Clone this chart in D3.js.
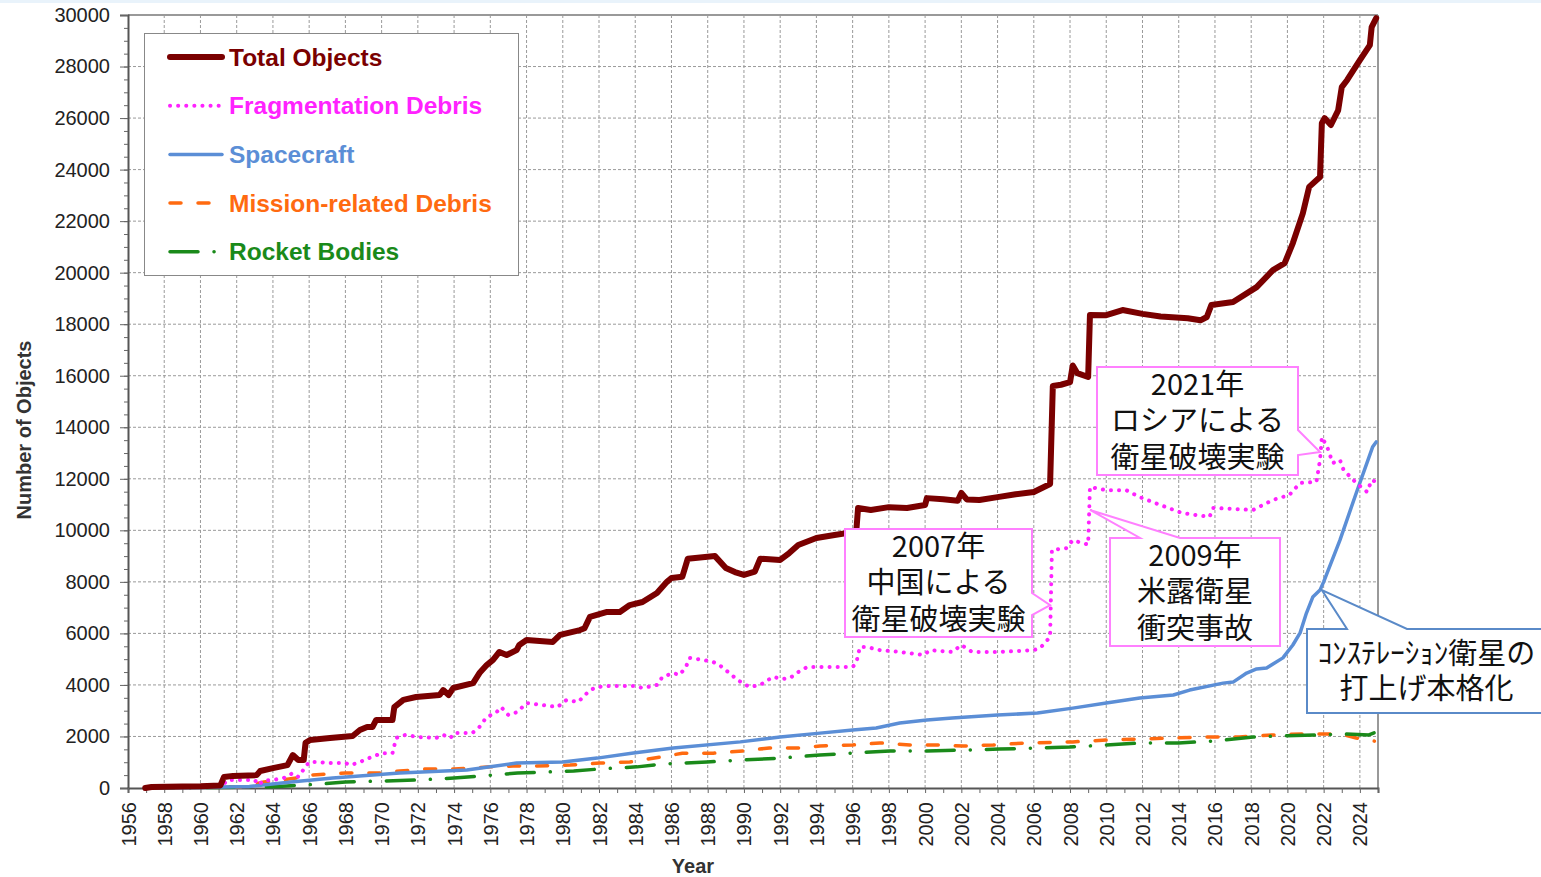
<!DOCTYPE html>
<html lang="ja">
<head>
<meta charset="utf-8">
<title>Number of Objects by Year</title>
<script src="https://cdn.jsdelivr.net/npm/d3@7"></script>
<style>
  body { margin: 0; background: #fff; }
  svg { font-family: "Liberation Sans", Arial, sans-serif; }
</style>
</head>
<body>
<script>
// ---- data (year, number of objects) ----
var totalObjects = [[1956.95,0],[1957.3,40],[1959,60],[1960,70],[1961.1,100],[1961.3,430],[1961.8,470],[1963.1,500],[1963.3,660],[1964.0,770],[1964.8,890],[1965.1,1280],[1965.4,1090],[1965.7,1090],[1965.8,1750],[1966.05,1860],[1967.15,1940],[1968.4,2020],[1968.8,2250],[1969.2,2370],[1969.5,2370],[1969.7,2640],[1970.6,2640],[1970.7,3140],[1971.2,3420],[1971.9,3530],[1973.2,3610],[1973.4,3800],[1973.7,3610],[1973.95,3880],[1975.05,4070],[1975.4,4460],[1975.8,4770],[1976.15,4970],[1976.5,5280],[1976.9,5160],[1977.45,5350],[1977.6,5550],[1978.0,5740],[1979.45,5670],[1979.85,5940],[1980.95,6130],[1981.2,6200],[1981.5,6640],[1982.4,6830],[1983.15,6830],[1983.7,7100],[1984.4,7220],[1985.2,7570],[1985.75,8000],[1986.0,8150],[1986.6,8200],[1986.9,8900],[1988.4,9000],[1989.0,8540],[1989.5,8380],[1990.0,8270],[1990.6,8400],[1990.9,8900],[1992.0,8850],[1992.5,9120],[1993.0,9430],[1994.0,9700],[1995.0,9820],[1996.2,9950],[1996.3,10870],[1997.0,10790],[1998.0,10900],[1999.0,10870],[2000.0,10980],[2000.1,11250],[2001.0,11210],[2001.8,11150],[2002.0,11450],[2002.3,11200],[2003.0,11180],[2004.0,11290],[2005.0,11400],[2006.0,11490],[2006.9,11800],[2007.05,15600],[2007.5,15650],[2008.0,15750],[2008.15,16400],[2008.4,16100],[2009.0,15950],[2009.1,18360],[2010.0,18350],[2010.9,18550],[2012.0,18400],[2013.0,18300],[2014.5,18230],[2015.2,18150],[2015.55,18280],[2015.8,18745],[2017.0,18860],[2018.3,19440],[2019.2,20100],[2019.85,20370],[2020.3,21150],[2020.85,22300],[2021.2,23330],[2021.8,23710],[2021.9,25800],[2022.05,26000],[2022.4,25730],[2022.8,26300],[2023.0,27200],[2023.3,27480],[2024.0,28250],[2024.55,28830],[2024.65,29530],[2024.9,29880]];

var fragmentationDebris = [[1961.35,200],[1961.5,310],[1963.0,310],[1963.2,120],[1963.5,300],[1964.0,310],[1964.6,390],[1965.1,580],[1965.4,430],[1965.8,820],[1966.0,1010],[1966.5,1010],[1967.0,970],[1968.0,970],[1968.3,890],[1968.8,1010],[1969.3,1160],[1970.0,1350],[1970.6,1350],[1970.8,1940],[1971.3,2060],[1972.0,1980],[1973.0,1940],[1973.4,2060],[1973.8,1940],[1974.0,2130],[1975.0,2130],[1975.4,2370],[1975.8,2760],[1976.3,2910],[1976.6,3140],[1977.0,2830],[1977.5,2950],[1978.0,3300],[1979.3,3180],[1979.7,3140],[1980.2,3415],[1980.85,3340],[1981.5,3800],[1981.9,3920],[1982.6,3960],[1984.0,3960],[1984.4,3880],[1985.2,4000],[1985.5,4310],[1986.1,4460],[1986.45,4390],[1986.8,4700],[1987.0,5050],[1987.75,4970],[1988.3,4890],[1988.65,4770],[1989.2,4460],[1989.65,4190],[1990.3,3920],[1990.9,4000],[1991.6,4310],[1992.15,4230],[1992.55,4270],[1992.9,4460],[1993.5,4700],[1996.0,4700],[1996.2,4850],[1996.4,5470],[1996.8,5470],[1997.5,5350],[1998.6,5280],[1999.9,5160],[2000.3,5350],[2001.5,5280],[2002.0,5550],[2002.6,5280],[2004.0,5280],[2006.0,5350],[2006.35,5430],[2006.9,5860],[2007.0,9240],[2007.8,9310],[2008.15,9620],[2008.7,9500],[2009.0,9450],[2009.1,11680],[2010.0,11560],[2011.1,11560],[2011.85,11290],[2013.3,10900],[2014.2,10670],[2015.7,10520],[2015.9,10870],[2018.1,10790],[2019.2,11180],[2020.1,11370],[2020.7,11840],[2021.6,11880],[2021.8,12730],[2021.9,13620],[2022.2,13230],[2022.5,12610],[2022.9,12730],[2023.1,12340],[2023.8,11840],[2024.4,11490],[2024.65,11950],[2024.9,11880]];

var spacecraft = [[1957.0,0],[1960,20],[1962.7,60],[1965.0,230],[1967.3,390],[1971.0,580],[1974.7,700],[1977.45,970],[1980.0,1010],[1981.9,1160],[1983.9,1360],[1986.1,1550],[1989.8,1790],[1992.0,1980],[1994.2,2130],[1996.0,2250],[1997.3,2330],[1998.6,2520],[2000.1,2640],[2001.5,2720],[2004.0,2830],[2006.2,2910],[2008.15,3100],[2010.0,3300],[2011.85,3490],[2013.7,3610],[2014.6,3800],[2016.45,4070],[2017.0,4110],[2017.75,4460],[2018.3,4620],[2018.85,4660],[2019.75,5050],[2020.3,5550],[2020.7,6020],[2021.05,6790],[2021.4,7410],[2021.8,7680],[2022.0,8000],[2022.9,9620],[2023.8,11450],[2024.7,13230],[2024.9,13430]];

var missionDebris = [[1957.0,0],[1959.0,30],[1962.5,50],[1963.2,190],[1963.5,230],[1964.5,310],[1965.3,390],[1966.0,500],[1967.0,540],[1968.0,580],[1970.0,580],[1971.0,660],[1972.5,740],[1974.0,740],[1975.0,780],[1976.0,820],[1977.5,860],[1978.2,850],[1980.4,890],[1982.05,970],[1983.7,1010],[1985.4,1200],[1986.6,1350],[1988.3,1350],[1989.95,1440],[1991.4,1550],[1992.9,1550],[1994.2,1630],[1996.0,1670],[1997.5,1750],[1999.15,1670],[2000.6,1670],[2002.1,1630],[2003.75,1670],[2005.6,1750],[2008.15,1790],[2010.0,1860],[2011.85,1900],[2013.7,1940],[2015.55,1980],[2017.35,1980],[2019.2,2060],[2021.05,2100],[2022.9,2100],[2023.8,1940],[2024.5,1860],[2024.8,1820]];

var rocketBodies = [[1957.0,0],[1961.0,20],[1963.0,50],[1964.0,50],[1965.0,90],[1966.5,150],[1968.0,230],[1970.0,270],[1972.0,310],[1974.0,390],[1975.5,470],[1977.5,580],[1980.6,660],[1982.05,740],[1984.1,820],[1985.5,930],[1987.95,1010],[1989.95,1090],[1992.0,1160],[1994.2,1280],[1995.85,1350],[1998.05,1440],[2000.1,1440],[2002.1,1470],[2004.1,1510],[2006.2,1550],[2008.0,1590],[2010.0,1670],[2012.0,1750],[2014.0,1750],[2015.9,1820],[2018.1,1980],[2019.6,2020],[2021.95,2060],[2022.9,2100],[2024.5,2060],[2024.9,2170]];

var seriesNames = ["Total Objects", "Fragmentation Debris", "Spacecraft", "Mission-related Debris", "Rocket Bodies"];
var xTickYears = d3.range(1956, 2025, 2);
var yTickValues = d3.range(0, 30001, 2000);

var calloutTexts = [
    ["2007年", "中国による", "衛星破壊実験"],
    ["2009年", "米露衛星", "衝突事故"],
    ["2021年", "ロシアによる", "衛星破壊実験"],
    ["ｺﾝｽﾃﾚｰｼｮﾝ衛星の", "打上げ本格化"]
];
// point each callout aims at (year, objects)
var calloutTargets = [[2006.9, 7100], [2009.1, 10790], [2021.8, 13040], [2021.9, 7680]];

// ---- drawing ----
var width = 1541, height = 877;
var plotLeft = 128, plotRight = 1378, plotTop = 15, plotBottom = 788;

var x = d3.scaleLinear().domain([1956, 2025]).range([plotLeft, plotRight]);
var y = d3.scaleLinear().domain([0, 30000]).range([plotBottom, plotTop]);

var styles = {
    "Total Objects":          { color: "#7a0000", width: 6,   dash: null,             cap: "round" },
    "Fragmentation Debris":   { color: "#ff22ff", width: 4,   dash: "0.1,8",          cap: "round" },
    "Spacecraft":             { color: "#5b8ed6", width: 3.5, dash: null,             cap: "round" },
    "Mission-related Debris": { color: "#ff6a10", width: 3.5, dash: "11,17",          cap: "round" },
    "Rocket Bodies":          { color: "#1a8a1a", width: 3.5, dash: "28,16,0.1,16",   cap: "round" }
};
var seriesData = {
    "Total Objects": totalObjects,
    "Fragmentation Debris": fragmentationDebris,
    "Spacecraft": spacecraft,
    "Mission-related Debris": missionDebris,
    "Rocket Bodies": rocketBodies
};

var svg = d3.select("body").append("svg")
    .attr("width", width)
    .attr("height", height);

svg.append("rect").attr("x", 0).attr("y", 0).attr("width", width).attr("height", 3).attr("fill", "#e9f3fb");

// grid
var grid = svg.append("g");
grid.selectAll(".vg").data(xTickYears.slice(1)).enter().append("line")
    .attr("x1", function(d) { return x(d); }).attr("x2", function(d) { return x(d); })
    .attr("y1", plotTop).attr("y2", plotBottom)
    .attr("stroke", "#9a9a9a").attr("stroke-width", 1).attr("stroke-dasharray", "3,2");
grid.selectAll(".hg").data(yTickValues.slice(1)).enter().append("line")
    .attr("x1", plotLeft).attr("x2", plotRight)
    .attr("y1", function(d) { return y(d); }).attr("y2", function(d) { return y(d); })
    .attr("stroke", "#9a9a9a").attr("stroke-width", 1).attr("stroke-dasharray", "3,2");

// frame
svg.append("line").attr("x1", plotLeft).attr("x2", plotRight).attr("y1", plotTop).attr("y2", plotTop)
    .attr("stroke", "#999").attr("stroke-width", 2);
svg.append("line").attr("x1", plotRight).attr("x2", plotRight).attr("y1", plotTop).attr("y2", plotBottom)
    .attr("stroke", "#999").attr("stroke-width", 2);

// axes
var yAxis = svg.append("g").attr("transform", "translate(" + plotLeft + ",0)")
    .call(d3.axisLeft(y).tickValues(yTickValues).tickSize(8).tickPadding(10).tickFormat(d3.format("d")));
svg.append("g").attr("transform", "translate(" + plotLeft + ",0)")
    .call(d3.axisLeft(y).tickValues(d3.range(0, 30001, 500)).tickSize(4).tickFormat(""))
    .call(function(g) { g.select(".domain").remove(); });

var xAxis = svg.append("g").attr("transform", "translate(0," + plotBottom + ")")
    .call(d3.axisBottom(x).tickValues(d3.range(1956, 2026, 1)).tickSize(5)
        .tickFormat(function(d) { return d % 2 === 0 && d < 2025 ? d : ""; }));
xAxis.selectAll("text")
    .attr("transform", "rotate(-90)")
    .attr("text-anchor", "end")
    .attr("x", -14).attr("y", 0).attr("dy", "0.35em");

[yAxis, xAxis].forEach(function(g) {
    g.select(".domain").attr("stroke", "#555").attr("stroke-width", 2);
    g.selectAll("text").attr("font-size", 20).attr("fill", "#222")
        .attr("font-family", "'Liberation Sans', Arial, sans-serif");
});
svg.selectAll(".tick line").attr("stroke", "#666");

svg.append("text")
    .attr("transform", "translate(31,430) rotate(-90)")
    .attr("text-anchor", "middle")
    .attr("font-size", 20).attr("font-weight", "bold").attr("fill", "#333")
    .text("Number of Objects");
svg.append("text")
    .attr("x", 693).attr("y", 873)
    .attr("text-anchor", "middle")
    .attr("font-size", 20).attr("font-weight", "bold").attr("fill", "#333")
    .text("Year");

// series lines
var line = d3.line()
    .x(function(d) { return x(d[0]); })
    .y(function(d) { return y(d[1]); });

var drawOrder = ["Mission-related Debris", "Rocket Bodies", "Spacecraft", "Fragmentation Debris", "Total Objects"];
drawOrder.forEach(function(name) {
    var s = styles[name];
    svg.append("path")
        .datum(seriesData[name])
        .attr("d", line)
        .attr("fill", "none")
        .attr("stroke", s.color)
        .attr("stroke-width", s.width)
        .attr("stroke-dasharray", s.dash)
        .attr("stroke-linecap", s.cap)
        .attr("stroke-linejoin", "round");
});

// legend
var legend = svg.append("g");
legend.append("rect")
    .attr("x", 144.5).attr("y", 33.5).attr("width", 374).attr("height", 242)
    .attr("fill", "#fff").attr("stroke", "#888").attr("stroke-width", 1);
seriesNames.forEach(function(name, i) {
    var s = styles[name];
    var cy = 57 + i * 48.7;
    legend.append("line")
        .attr("x1", 170).attr("x2", 222).attr("y1", cy).attr("y2", cy)
        .attr("stroke", s.color).attr("stroke-width", s.width)
        .attr("stroke-dasharray", s.dash).attr("stroke-linecap", s.cap);
    legend.append("text")
        .attr("x", 229).attr("y", cy).attr("dy", "0.35em")
        .attr("font-size", 24.5).attr("font-weight", "bold")
        .attr("fill", s.color)
        .text(name);
});

// callouts
var calloutBoxes = [
    { box: [845, 529, 1032, 637], side: "right", wedge: [593, 615], color: "#ff80ff" },
    { box: [1110, 538, 1280, 646], side: "top", wedge: [1140, 1180], color: "#ff80ff" },
    { box: [1097, 367, 1298, 475], side: "right", wedge: [430, 455], color: "#ff80ff" },
    { box: [1307, 629, 1546, 713], side: "top", wedge: [1347, 1407], color: "#5a8ac8" }
];

function calloutPath(c, px, py) {
    var b = c.box, w = c.wedge;
    if (c.side === "right") {
        return "M" + b[0] + "," + b[1] + "L" + b[2] + "," + b[1] + "L" + b[2] + "," + w[0] +
            "L" + px + "," + py + "L" + b[2] + "," + w[1] + "L" + b[2] + "," + b[3] +
            "L" + b[0] + "," + b[3] + "Z";
    }
    return "M" + b[0] + "," + b[1] + "L" + w[0] + "," + b[1] + "L" + px + "," + py +
        "L" + w[1] + "," + b[1] + "L" + b[2] + "," + b[1] + "L" + b[2] + "," + b[3] +
        "L" + b[0] + "," + b[3] + "Z";
}

calloutBoxes.forEach(function(c, i) {
    var t = calloutTargets[i];
    var g = svg.append("g");
    g.append("path")
        .attr("d", calloutPath(c, x(t[0]), y(t[1])))
        .attr("fill", "#fff")
        .attr("stroke", c.color)
        .attr("stroke-width", 2)
        .attr("stroke-linejoin", "miter");
    var lines = calloutTexts[i];
    var cx = (c.box[0] + c.box[2]) / 2;
    var cy = (c.box[1] + c.box[3]) / 2;
    var step = lines.length === 3 ? 36.5 : 35;
    lines.forEach(function(txt, j) {
        g.append("text")
            .attr("x", cx)
            .attr("y", cy + (j - (lines.length - 1) / 2) * step)
            .attr("dy", "0.36em")
            .attr("text-anchor", "middle")
            .attr("font-family", "'Noto Sans CJK JP', sans-serif")
            .attr("font-size", 29)
            .attr("fill", "#111")
            .text(txt);
    });
});
</script>
</body>
</html>
